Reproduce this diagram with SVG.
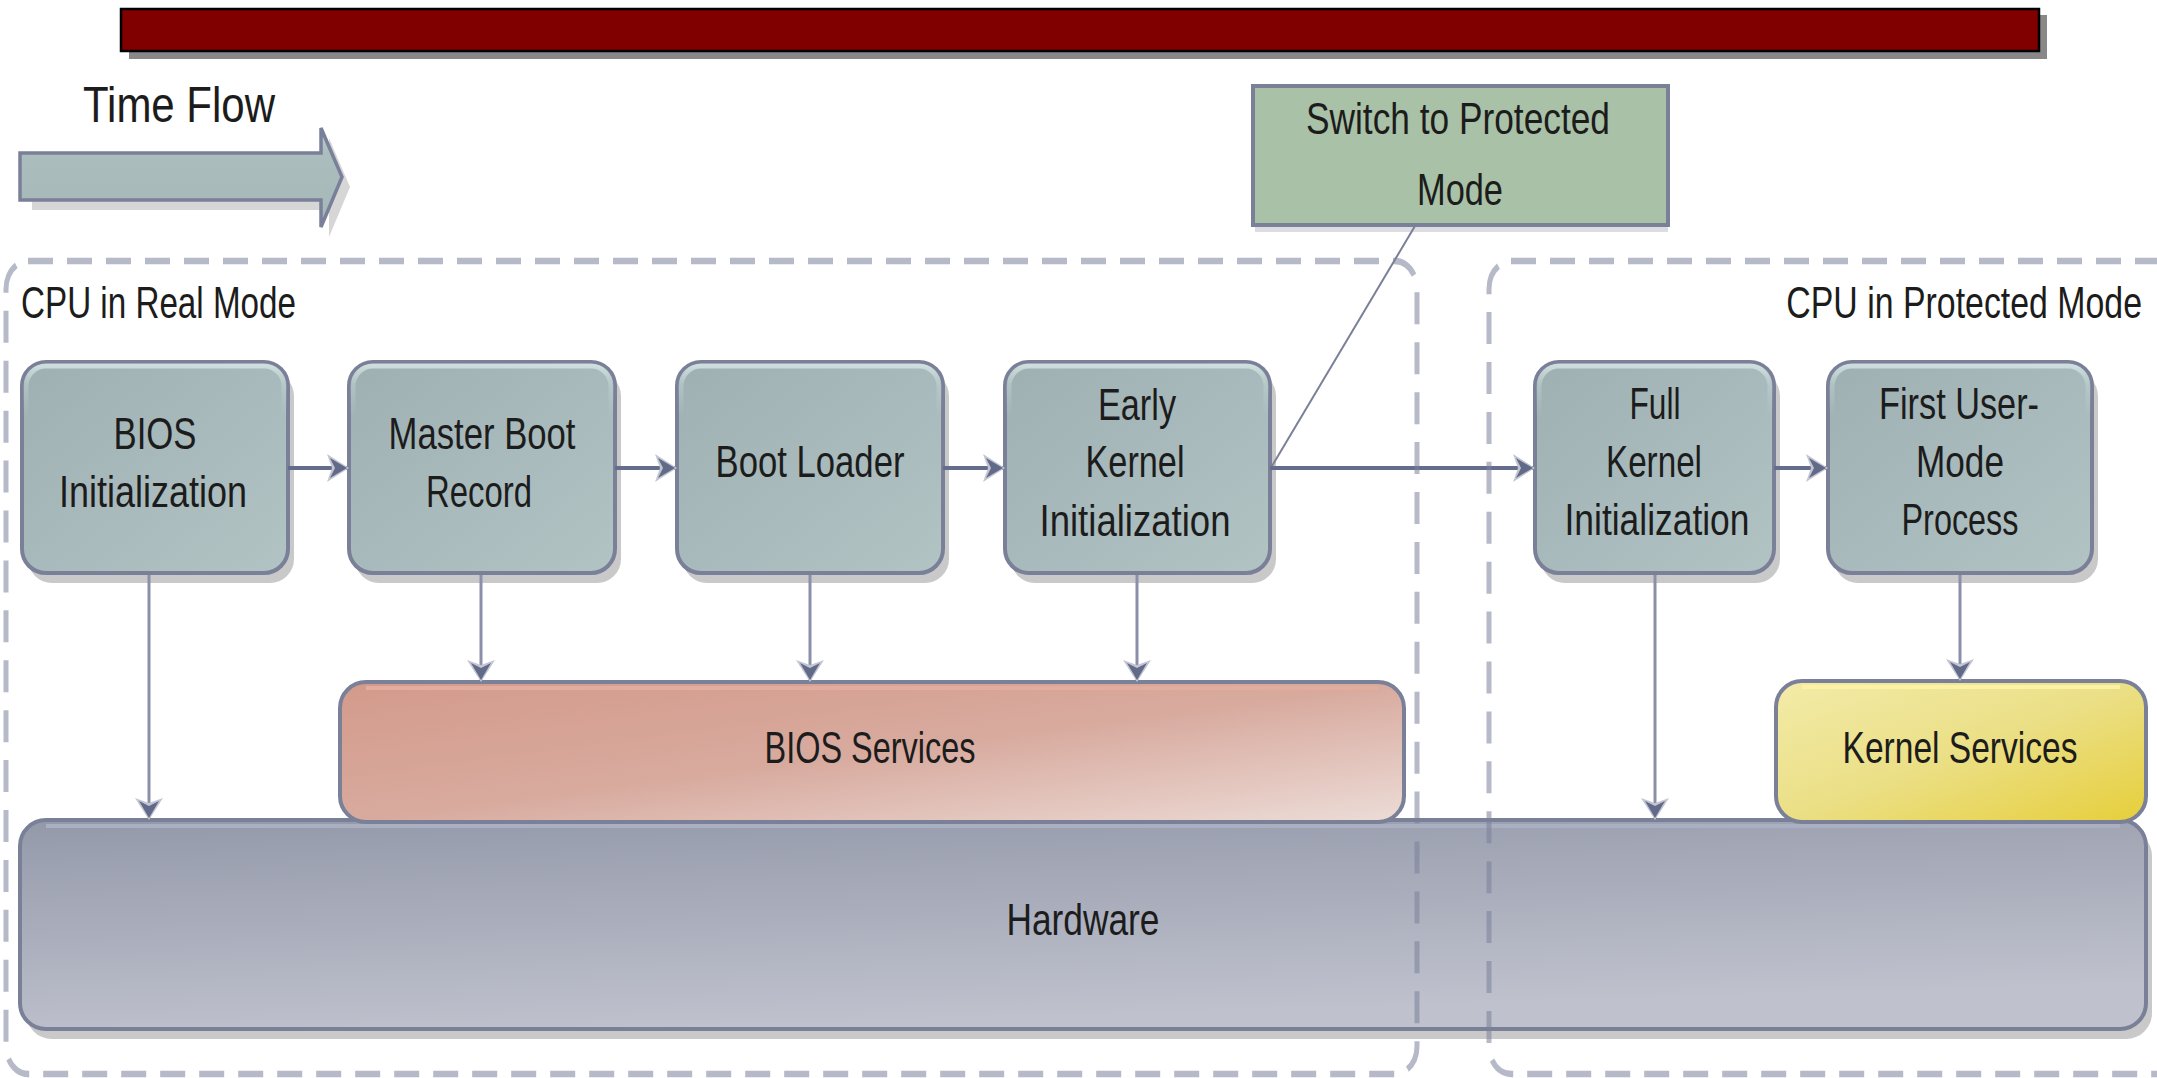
<svg xmlns="http://www.w3.org/2000/svg" width="2157" height="1078" viewBox="0 0 2157 1078">
  <defs>
    <linearGradient id="gStep" x1="0" y1="0" x2="1" y2="1">
      <stop offset="0" stop-color="#9fb0b3"/>
      <stop offset="1" stop-color="#b1c3c3"/>
    </linearGradient>
    <linearGradient id="gHl" x1="0" y1="0" x2="0" y2="1">
      <stop offset="0" stop-color="#d2e2e2" stop-opacity="0.9"/>
      <stop offset="0.1" stop-color="#c6d8d8" stop-opacity="0.4"/>
      <stop offset="0.25" stop-color="#c6d8d8" stop-opacity="0"/>
    </linearGradient>
    <linearGradient id="gBios" x1="0" y1="0" x2="1" y2="1">
      <stop offset="0" stop-color="#d39a8b"/>
      <stop offset="0.5" stop-color="#d8aa9e"/>
      <stop offset="1" stop-color="#ecdcd7"/>
    </linearGradient>
    <linearGradient id="gKern" x1="0" y1="0" x2="1" y2="1">
      <stop offset="0" stop-color="#f3eba9"/>
      <stop offset="0.5" stop-color="#ebdf86"/>
      <stop offset="1" stop-color="#e6cf3a"/>
    </linearGradient>
    <linearGradient id="gHw" x1="0" y1="0" x2="0.3" y2="1">
      <stop offset="0" stop-color="#9499aa"/>
      <stop offset="1" stop-color="#bfc2cd"/>
    </linearGradient>
    <linearGradient id="gFlow" x1="0" y1="0" x2="0" y2="1">
      <stop offset="0" stop-color="#bccfcf"/>
      <stop offset="0.25" stop-color="#abbdbd"/>
      <stop offset="1" stop-color="#a6b7b8"/>
    </linearGradient>
    <marker id="ah" viewBox="-22 -16 26 32" markerWidth="26" markerHeight="32" refX="0" refY="0" orient="auto" markerUnits="userSpaceOnUse">
      <path d="M2,0 L-20,-14 L-15,0 L-20,14 Z" fill="#c3c6d2"/>
      <path d="M0,0 L-17,-10 L-12,0 L-17,10 Z" fill="#626a89"/>
    </marker>
    <style>
      .box { stroke: #7a8098; stroke-width: 4; }
      .step { fill: url(#gStep); }
      .hl { fill: none; stroke: url(#gHl); stroke-width: 5; }
      .shadow { fill: #c9c9c9; }
      .lbl { font-family: "Liberation Sans", Arial, sans-serif; font-size: 44px; fill: #1c1c1c; text-anchor: middle; }
      .cap { font-family: "Liberation Sans", Arial, sans-serif; font-size: 44px; fill: #1c1c1c; }
      .flow { fill: none; stroke: #656d8c; stroke-width: 4; marker-end: url(#ah); }
      .drop { fill: none; stroke: #8a90a8; stroke-width: 3; marker-end: url(#ah); }
      .callout { fill: none; stroke: #7a8098; stroke-width: 2; }
      .lane { fill: none; stroke: #7a8099; stroke-opacity: 0.55; stroke-width: 5; stroke-dasharray: 25 14; }
    </style>
  </defs>

  <!-- title bar -->
  <g id="title-bar">
    <rect x="129" y="15" width="1918" height="44" fill="#888888"/>
    <rect x="121" y="9" width="1918" height="42" fill="#800000" stroke="#000000" stroke-width="2.5"/>
  </g>

  <!-- time flow arrow -->
  <g id="time-flow">
    <path d="M32,163 H329 V138 L350,187 L329,237 V210 H32 Z" fill="#d6d6d6"/>
    <path d="M20,153 H321 V128 L342,177 L321,227 V200 H20 Z" fill="url(#gFlow)" stroke="#7a8099" stroke-width="3.5"/>
    <text class="cap" x="83" y="122" textLength="192" lengthAdjust="spacingAndGlyphs" style="font-size:50px">Time Flow</text>
  </g>

  <!-- hardware layer -->
  <g id="hardware">
    <rect class="shadow" x="26" y="830" width="2126" height="209" rx="26"/>
    <rect class="box" x="20" y="820" width="2126" height="209" rx="26" fill="url(#gHw)"/>
    <path d="M46,826 H2120" stroke="#aab0c2" stroke-width="4" fill="none"/>
    <text class="lbl" x="1083" y="935" textLength="153" lengthAdjust="spacingAndGlyphs">Hardware</text>
  </g>

  <!-- service layers -->
  <g id="bios-services">
    <rect class="box" x="340" y="682" width="1064" height="140" rx="26" fill="url(#gBios)"/>
    <path d="M366,688 H1378" stroke="#e2ad9e" stroke-width="4" fill="none"/>
    <text class="lbl" x="870" y="763" textLength="211" lengthAdjust="spacingAndGlyphs">BIOS Services</text>
  </g>
  <g id="kernel-services">
    <rect class="box" x="1776" y="681" width="370" height="141" rx="26" fill="url(#gKern)"/>
    <path d="M1802,687 H2120" stroke="#fbf2a4" stroke-width="4" fill="none"/>
    <text class="lbl" x="1960" y="763" textLength="235" lengthAdjust="spacingAndGlyphs">Kernel Services</text>
  </g>

  <!-- boot stages -->
  <g id="bios-init">
    <rect class="shadow" x="28" y="372" width="266" height="211" rx="24"/>
    <rect class="box step" x="22" y="362" width="266" height="211" rx="24"/>
    <rect class="hl" x="26" y="366" width="258" height="203" rx="20"/>
    <text class="lbl" x="155" y="449" textLength="83" lengthAdjust="spacingAndGlyphs">BIOS</text>
    <text class="lbl" x="153" y="507" textLength="188" lengthAdjust="spacingAndGlyphs">Initialization</text>
  </g>
  <g id="master-boot-record">
    <rect class="shadow" x="355" y="372" width="266" height="211" rx="24"/>
    <rect class="box step" x="349" y="362" width="266" height="211" rx="24"/>
    <rect class="hl" x="353" y="366" width="258" height="203" rx="20"/>
    <text class="lbl" x="482" y="449" textLength="187" lengthAdjust="spacingAndGlyphs">Master Boot</text>
    <text class="lbl" x="479" y="507" textLength="106" lengthAdjust="spacingAndGlyphs">Record</text>
  </g>
  <g id="boot-loader">
    <rect class="shadow" x="683" y="372" width="266" height="211" rx="24"/>
    <rect class="box step" x="677" y="362" width="266" height="211" rx="24"/>
    <rect class="hl" x="681" y="366" width="258" height="203" rx="20"/>
    <text class="lbl" x="810" y="477" textLength="189" lengthAdjust="spacingAndGlyphs">Boot Loader</text>
  </g>
  <g id="early-kernel-init">
    <rect class="shadow" x="1011" y="372" width="265" height="211" rx="24"/>
    <rect class="box step" x="1005" y="362" width="265" height="211" rx="24"/>
    <rect class="hl" x="1009" y="366" width="257" height="203" rx="20"/>
    <text class="lbl" x="1137" y="420" textLength="78" lengthAdjust="spacingAndGlyphs">Early</text>
    <text class="lbl" x="1135" y="477" textLength="99" lengthAdjust="spacingAndGlyphs">Kernel</text>
    <text class="lbl" x="1135" y="536" textLength="191" lengthAdjust="spacingAndGlyphs">Initialization</text>
  </g>
  <g id="full-kernel-init">
    <rect class="shadow" x="1541" y="372" width="239" height="211" rx="24"/>
    <rect class="box step" x="1535" y="362" width="239" height="211" rx="24"/>
    <rect class="hl" x="1539" y="366" width="231" height="203" rx="20"/>
    <text class="lbl" x="1655" y="419" textLength="51" lengthAdjust="spacingAndGlyphs">Full</text>
    <text class="lbl" x="1654" y="477" textLength="96" lengthAdjust="spacingAndGlyphs">Kernel</text>
    <text class="lbl" x="1657" y="535" textLength="185" lengthAdjust="spacingAndGlyphs">Initialization</text>
  </g>
  <g id="first-user-process">
    <rect class="shadow" x="1834" y="372" width="264" height="211" rx="24"/>
    <rect class="box step" x="1828" y="362" width="264" height="211" rx="24"/>
    <rect class="hl" x="1832" y="366" width="256" height="203" rx="20"/>
    <text class="lbl" x="1959" y="419" textLength="160" lengthAdjust="spacingAndGlyphs">First User-</text>
    <text class="lbl" x="1960" y="477" textLength="88" lengthAdjust="spacingAndGlyphs">Mode</text>
    <text class="lbl" x="1960" y="535" textLength="117" lengthAdjust="spacingAndGlyphs">Process</text>
  </g>

  <!-- mode switch annotation -->
  <g id="switch-protected">
    <rect x="1255" y="225" width="413" height="7" fill="#dcdce2"/>
    <rect class="box" x="1253" y="86" width="415" height="139" fill="#a9c1a6"/>
    <text class="lbl" x="1458" y="134" textLength="304" lengthAdjust="spacingAndGlyphs">Switch to Protected</text>
    <text class="lbl" x="1460" y="205" textLength="86" lengthAdjust="spacingAndGlyphs">Mode</text>
  </g>

  <!-- connectors -->
  <g id="connectors">
    <path class="flow" d="M288,468 H347"/>
    <path class="flow" d="M615,468 H675"/>
    <path class="flow" d="M943,468 H1003"/>
    <path class="flow" d="M1270,468 H1533"/>
    <path class="flow" d="M1774,468 H1826"/>
    <path class="drop" d="M149,575 V818"/>
    <path class="drop" d="M481,575 V680"/>
    <path class="drop" d="M810,575 V680"/>
    <path class="drop" d="M1137,575 V680"/>
    <path class="drop" d="M1655,575 V818"/>
    <path class="drop" d="M1960,575 V679"/>
    <path class="callout" d="M1415,226 L1272,466"/>
  </g>

  <!-- CPU mode regions -->
  <g id="real-mode-region">
    <g transform="scale(1 1.28)">
      <rect class="lane" x="6" y="203.9" width="1411" height="635.2" rx="22"/>
    </g>
    <text class="cap" x="21" y="318" textLength="275" lengthAdjust="spacingAndGlyphs">CPU in Real Mode</text>
  </g>
  <g id="protected-mode-region">
    <g transform="scale(1 1.28)">
      <rect class="lane" x="1489" y="203.9" width="690" height="635.2" rx="22"/>
    </g>
    <text class="cap" transform="translate(2142 318) scale(0.77 1)" x="0" y="0" text-anchor="end" textLength="462" lengthAdjust="spacingAndGlyphs">CPU in Protected Mode</text>
  </g>
</svg>
